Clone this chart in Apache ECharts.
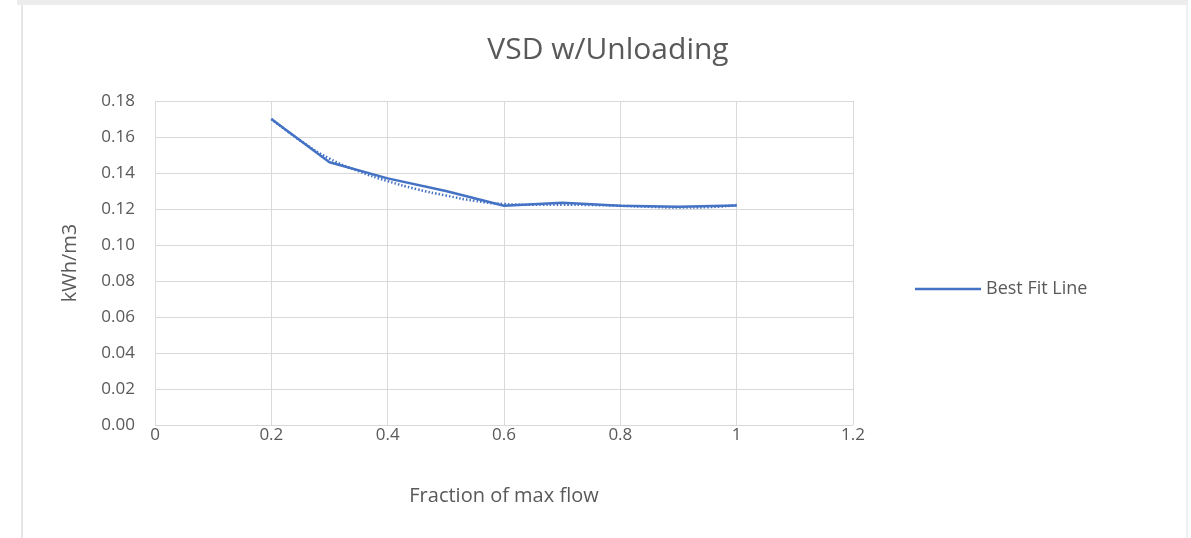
<!DOCTYPE html>
<html><head><meta charset="utf-8">
<script src="https://cdn.jsdelivr.net/npm/echarts@6/dist/echarts.min.js"></script>
<style>
html,body{margin:0;padding:0;background:#fff;}
#frame{position:absolute;left:0;top:0;width:1191px;height:538px;}
#topband{position:absolute;left:17px;top:0;width:1171px;height:5px;background:#ececec;}
#lborder{position:absolute;left:21px;top:5px;width:2px;height:533px;background:#e6e6e6;}
#rborder{position:absolute;left:1186px;top:5px;width:2px;height:533px;background:#f0f0f0;}
#chart{position:absolute;left:0;top:0;width:1191px;height:538px;}
</style>
</head><body>
<div id="frame"><div id="topband"></div><div id="lborder"></div><div id="rborder"></div></div>
<div id="chart"></div>
<script>
const titleText = "VSD w/Unloading";
const xAxisName = "Fraction of max flow";
const yAxisName = "kWh/m3";
const seriesName = "Best Fit Line";
// measured data (solid line)
const flowFraction = [0.2, 0.3, 0.4, 0.5, 0.6, 0.7, 0.8, 0.9, 1.0];
const kwhPerM3 = [0.170, 0.146, 0.137, 0.130, 0.1218, 0.1235, 0.1218, 0.1212, 0.122];
// trendline (dotted)
const trendX = [0.2, 0.25, 0.3, 0.35, 0.4, 0.45, 0.5, 0.55, 0.6, 0.65, 0.7, 0.75, 0.8, 0.85, 0.9, 0.95, 1.0];
const trendY = [0.170, 0.158, 0.148, 0.141, 0.1355, 0.131, 0.1275, 0.1245, 0.1228, 0.1224, 0.1224, 0.1222, 0.1218, 0.1212, 0.1208, 0.121, 0.1222];

const txt = '#595959';
const font = '"Open Sans", "Noto Sans", sans-serif';
const chart = echarts.init(document.getElementById('chart'));
chart.setOption({
  animation: false,
  backgroundColor: 'transparent',
  title: {text: titleText, left: 603, top: 30, textAlign: 'center',
    textStyle: {fontFamily: font, fontSize: 30, fontWeight: 'normal', color: txt}},
  grid: {left: 155, right: 338, top: 101, bottom: 113},
  legend: {data: [seriesName], left: 910, top: 275, itemWidth: 66, itemHeight: 14, itemGap: 6,
    icon: 'path://M0,6 L66,6 L66,8.5 L0,8.5 Z',
    textStyle: {fontFamily: font, fontSize: 18, color: txt}},
  xAxis: {type: 'value', min: 0, max: 1.2, interval: 0.2,
    name: xAxisName, nameLocation: 'middle', nameGap: 61,
    nameTextStyle: {fontFamily: font, fontSize: 20, color: txt},
    axisLine: {show: false}, axisTick: {show: false},
    axisLabel: {fontFamily: font, fontSize: 17, color: txt, margin: 2,
      formatter: v => String(Math.round(v*10)/10)},
    splitLine: {show: true, lineStyle: {color: '#d9d9d9', width: 1}}},
  yAxis: {type: 'value', min: 0, max: 0.18, interval: 0.02,
    name: yAxisName, nameLocation: 'middle', nameGap: 75,
    nameTextStyle: {fontFamily: font, fontSize: 20, color: txt},
    axisLine: {show: false}, axisTick: {show: false},
    axisLabel: {fontFamily: font, fontSize: 17, color: txt, margin: 20,
      formatter: v => v.toFixed(2)},
    splitLine: {show: true, lineStyle: {color: '#d9d9d9', width: 1}}},
  series: [
    {name: seriesName, type: 'line', showSymbol: false, symbol: 'none',
      data: flowFraction.map((x, i) => [x, kwhPerM3[i]]),
      lineStyle: {color: '#4472C4', width: 2.5}, itemStyle: {color: '#4472C4'}, z: 3},
    {name: 'Trend', type: 'line', showSymbol: false, symbol: 'none', smooth: true,
      data: trendX.map((x, i) => [x, trendY[i]]),
      lineStyle: {color: '#4472C4', width: 2.5, type: [1.5, 2]}, z: 2}
  ]
});
</script>
</body></html>
